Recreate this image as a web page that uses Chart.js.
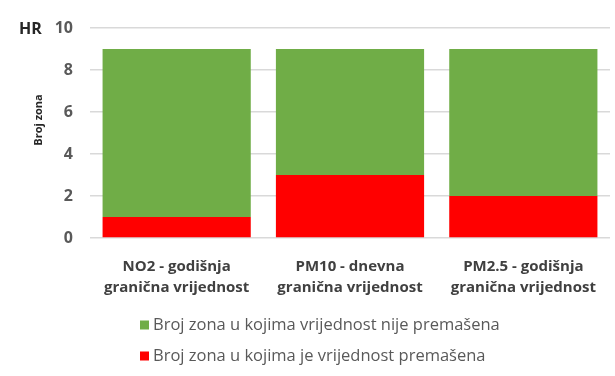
<!DOCTYPE html>
<html>
<head>
<meta charset="utf-8">
<script src="https://cdn.jsdelivr.net/npm/chart.js@4"></script>
<style>
  html, body { margin: 0; padding: 0; background: #fff; }
  #wrap { width: 615px; height: 376px; }
</style>
</head>
<body>
<div id="wrap"><canvas id="zone"></canvas></div>
<script>
const categories = [
  ["NO2 - godišnja", "granična vrijednost"],
  ["PM10 - dnevna", "granična vrijednost"],
  ["PM2.5 - godišnja", "granična vrijednost"]
];
const exceeded = [1, 3, 2];
const notExceeded = [8, 6, 7];
const yTicks = [0, 2, 4, 6, 8, 10];

const FONT = "'Open Sans', 'DejaVu Sans', sans-serif";

// legend as a left-aligned column under the axis, plus the side texts
const extras = {
  id: "extras",
  afterDraw(chart) {
    const ctx = chart.ctx;
    const items = chart.data.datasets.slice().reverse();
    ctx.save();
    ctx.font = "16.5px " + FONT;
    ctx.textBaseline = "middle";
    items.forEach((ds, i) => {
      const y = 325 + i * 31;
      ctx.fillStyle = ds.backgroundColor;
      ctx.fillRect(140, y - 4.5, 9, 9);
      ctx.fillStyle = "#595959";
      ctx.fillText(ds.label, 153, y + 0.5);
    });

    ctx.font = "bold 16px " + FONT;
    ctx.fillStyle = "#262626";
    ctx.fillText("HR", 19, 29);

    // rotated axis title
    ctx.translate(39, 120);
    ctx.rotate(-Math.PI / 2);
    ctx.textAlign = "center";
    ctx.font = "bold 11px " + FONT;
    ctx.fillText("Broj zona", 0, 0);
    ctx.restore();
  }
};

new Chart(document.getElementById("zone"), {
  type: "bar",
  data: {
    labels: categories,
    datasets: [
      {
        label: "Broj zona u kojima je vrijednost premašena",
        data: exceeded,
        backgroundColor: "#FF0000"
      },
      {
        label: "Broj zona u kojima vrijednost nije premašena",
        data: notExceeded,
        backgroundColor: "#70AD47"
      }
    ]
  },
  options: {
    responsive: true,
    maintainAspectRatio: false,
    animation: false,
    categoryPercentage: 1,
    barPercentage: 0.855,
    layout: { padding: { top: 28, right: 5, bottom: 70, left: 0 } },
    plugins: {
      legend: { display: false },
      tooltip: { enabled: false }
    },
    scales: {
      x: {
        stacked: true,
        grid: { display: false },
        border: { display: false },
        ticks: {
          color: "#404040",
          font: { family: FONT, size: 15, weight: "bold", lineHeight: 1.4 },
          padding: 10,
          maxRotation: 0
        },
        afterFit(s) { s.height = 68; }
      },
      y: {
        stacked: true,
        min: 0,
        max: 10,
        afterBuildTicks(s) { s.ticks = yTicks.map(v => ({ value: v })); },
        grid: { color: "#d9d9d9", lineWidth: 1.5, drawTicks: false },
        border: { display: false },
        ticks: {
          color: "#595959",
          font: { family: FONT, size: 16, weight: "bold" },
          padding: 17
        },
        afterFit(s) { s.width = 90; }
      }
    }
  },
  plugins: [extras]
});
</script>
</body>
</html>
